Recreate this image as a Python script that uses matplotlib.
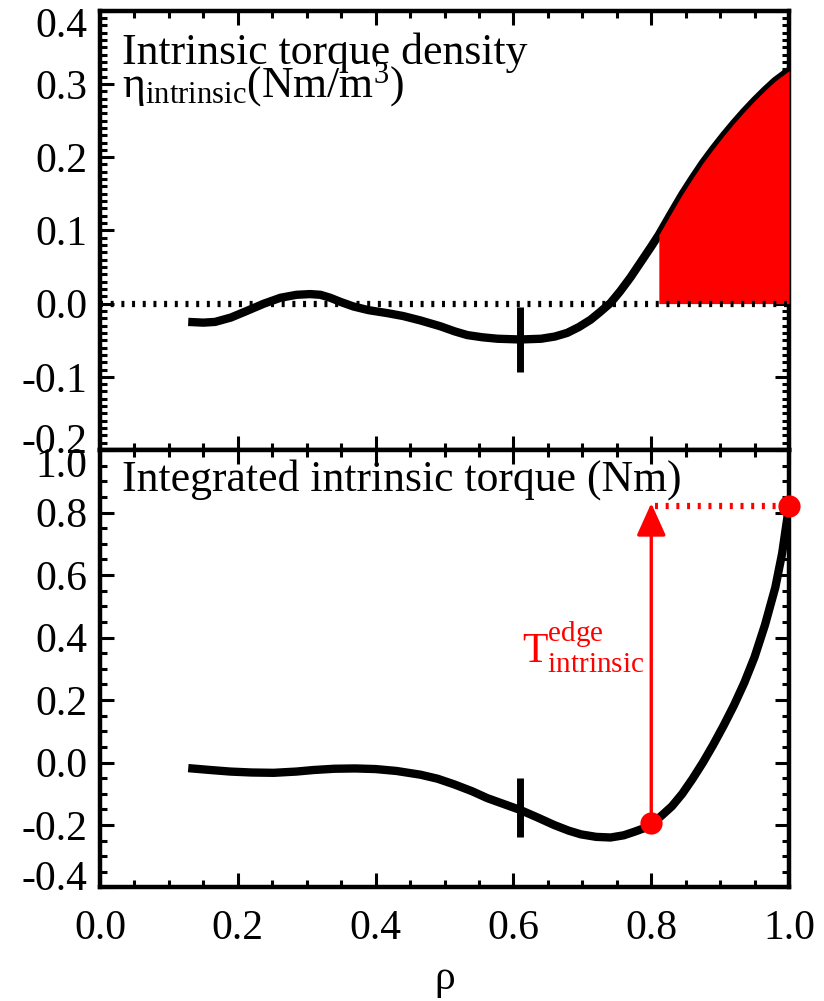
import matplotlib
matplotlib.use('Agg')
import matplotlib.pyplot as plt
import matplotlib.transforms as mtransforms
from matplotlib.ticker import MultipleLocator, FixedLocator, FormatStrFormatter
import numpy as np

plt.rcParams['font.family'] = ['Liberation Serif', 'DejaVu Serif']
plt.rcParams['mathtext.fontset'] = 'custom'
plt.rcParams['mathtext.rm'] = 'Liberation Serif'
plt.rcParams['mathtext.it'] = 'Liberation Serif:italic'
plt.rcParams['mathtext.bf'] = 'Liberation Serif:bold'
plt.rcParams['axes.unicode_minus'] = False

# ---------------- data ----------------
rho_density = [0.128, 0.150, 0.167, 0.190, 0.213, 0.238, 0.262, 0.285, 0.305,
               0.320, 0.334, 0.350, 0.368, 0.390, 0.417, 0.440, 0.465, 0.494,
               0.515, 0.533, 0.555, 0.577, 0.610, 0.640, 0.660, 0.678, 0.695,
               0.712, 0.725, 0.741, 0.755, 0.770, 0.785, 0.800, 0.811, 0.830,
               0.845, 0.860, 0.875, 0.890, 0.905, 0.920, 0.935, 0.950, 0.965,
               0.980, 1.000]
eta_density = [-0.025, -0.026, -0.025, -0.019, -0.010, 0.000, 0.008, 0.012, 0.013,
               0.012, 0.008, 0.002, -0.004, -0.009, -0.013, -0.017, -0.023, -0.031,
               -0.038, -0.043, -0.046, -0.048, -0.049, -0.048, -0.045, -0.040, -0.032,
               -0.022, -0.012, 0.001, 0.017, 0.036, 0.057, 0.078, 0.094, 0.125,
               0.149, 0.171, 0.192, 0.211, 0.229, 0.246, 0.262, 0.277, 0.291,
               0.304, 0.318]

rho_torque = [0.128, 0.160, 0.189, 0.220, 0.252, 0.285, 0.310, 0.340, 0.370,
              0.400, 0.430, 0.465, 0.490, 0.514, 0.540, 0.562, 0.586, 0.610,
              0.635, 0.659, 0.680, 0.698, 0.720, 0.741, 0.760, 0.775, 0.790,
              0.802, 0.815, 0.830, 0.845, 0.860, 0.875, 0.890, 0.905, 0.920,
              0.935, 0.950, 0.965, 0.980, 0.990, 1.000]
torque = [-0.018, -0.024, -0.029, -0.032, -0.033, -0.029, -0.024, -0.020, -0.019,
          -0.021, -0.027, -0.039, -0.052, -0.070, -0.092, -0.114, -0.133, -0.152,
          -0.176, -0.200, -0.218, -0.230, -0.238, -0.240, -0.233, -0.222, -0.210,
          -0.194, -0.170, -0.140, -0.100, -0.052, 0.000, 0.057, 0.118, 0.183,
          0.255, 0.338, 0.440, 0.560, 0.670, 0.821]

fill_start = 0.81
marker_rho = 0.61
marker_density_range = [-0.004, -0.093]
marker_torque_range = [-0.050, -0.237]
edge_rho = [0.80, 1.00]
edge_torque = [-0.194, 0.821]
arrow_tip = 0.83

x_ticks = [0.0, 0.2, 0.4, 0.6, 0.8, 1.0]
top_yticks = [-0.2, -0.1, 0.0, 0.1, 0.2, 0.3, 0.4]
bot_yticks = [-0.4, -0.2, 0.0, 0.2, 0.4, 0.6, 0.8, 1.0]

title_top_1 = 'Intrinsic torque density'
title_top_2 = r'$\mathrm{η_{intrinsic}(Nm/m^{3})}$'
title_bot = 'Integrated intrinsic torque (Nm)'
edge_label = r'$\mathrm{T^{edge}_{intrinsic}}$'

# ---------------- figure ----------------
fig = plt.figure(figsize=(8.24, 10.01), dpi=100)
fig.patch.set_facecolor('white')
ax1 = fig.add_axes([0.1214, 0.5504, 0.8362, 0.4389])
ax2 = fig.add_axes([0.1214, 0.1134, 0.8362, 0.4370])

FS = 30
FT = 31.5

def style(ax, yticks, yminor):
    for s in ax.spines.values():
        s.set_linewidth(3.2)
    ax.set_xlim(0, 1)
    ax.set_ylim(yticks[0], yticks[-1])
    ax.xaxis.set_major_locator(FixedLocator(x_ticks))
    ax.xaxis.set_minor_locator(MultipleLocator(0.05))
    ax.yaxis.set_major_locator(FixedLocator(yticks))
    ax.yaxis.set_minor_locator(MultipleLocator(yminor))
    ax.xaxis.set_major_formatter(FormatStrFormatter('%.1f'))
    ax.yaxis.set_major_formatter(FormatStrFormatter('%.1f'))
    ax.tick_params(which='both', direction='in', top=True, right=True, width=2.2)
    ax.tick_params(which='major', length=10)
    ax.tick_params(which='minor', length=5)
    ax.tick_params(axis='y', labelsize=FS, pad=9)
    ax.tick_params(axis='x', labelsize=FS, pad=16)

style(ax1, top_yticks, 0.01)
style(ax2, bot_yticks, 0.05)
ax1.tick_params(axis='x', labelbottom=False)

# --- top panel ---
rd = np.array(rho_density)
ed = np.array(eta_density)
ax1.plot(rd, ed, color='black', lw=6, zorder=2, solid_capstyle='butt')
ax1.fill_between(rd, 0, ed, where=rd >= fill_start, color='#ff0000', lw=0, zorder=3)
ax1.axhline(0, color='black', lw=4.5, ls=(0, (0.48, 1.23)), zorder=4)
ax1.plot([marker_rho, marker_rho], marker_density_range, color='black', lw=5, zorder=5,
         solid_capstyle='butt')
ax1.text(0.032, 0.8786, title_top_1, transform=ax1.transAxes, fontsize=FT, va='baseline')
ax1.text(0.032, 0.803, title_top_2, transform=ax1.transAxes, fontsize=FT, va='baseline')

# --- bottom panel ---
ax2.plot(rho_torque, torque, color='black', lw=6, zorder=2, solid_capstyle='butt')
ax2.plot([marker_rho, marker_rho], marker_torque_range, color='black', lw=5, zorder=3,
         solid_capstyle='butt')
ax2.annotate('', xy=(edge_rho[0], arrow_tip), xytext=(edge_rho[0], edge_torque[0]),
             arrowprops=dict(arrowstyle='-|>,head_length=2.0,head_width=0.9',
                             mutation_scale=10, color='#ff0000', lw=2.4,
                             shrinkA=0, shrinkB=0), zorder=4)
ax2.plot([edge_rho[0] + 0.005, edge_rho[1]], [edge_torque[1], edge_torque[1]],
         color='#ff0000', lw=4.5, ls=(0, (0.48, 1.23)), zorder=4)
ax2.plot(edge_rho, edge_torque, 'o', color='#ff0000', ms=16, mec='none',
         clip_on=False, zorder=6)
ax2.text(0.613, 0.318, edge_label, color='#ff0000', fontsize=FS, va='baseline')
ax2.text(0.032, 0.9086, title_bot, transform=ax2.transAxes, fontsize=FT, va='baseline')
ax2.set_xlabel('ρ', fontsize=FS, labelpad=8)

# end labels shifted inward, as in the reference
fig.canvas.draw()
shift = 12 / 100.0
for ax in (ax1, ax2):
    labs = ax.get_yticklabels()
    labs[0].set_transform(labs[0].get_transform() +
                          mtransforms.ScaledTranslation(0, shift, fig.dpi_scale_trans))
    labs[-1].set_transform(labs[-1].get_transform() +
                           mtransforms.ScaledTranslation(0, -shift, fig.dpi_scale_trans))

fig.savefig('out.png', dpi=100, facecolor='white')
